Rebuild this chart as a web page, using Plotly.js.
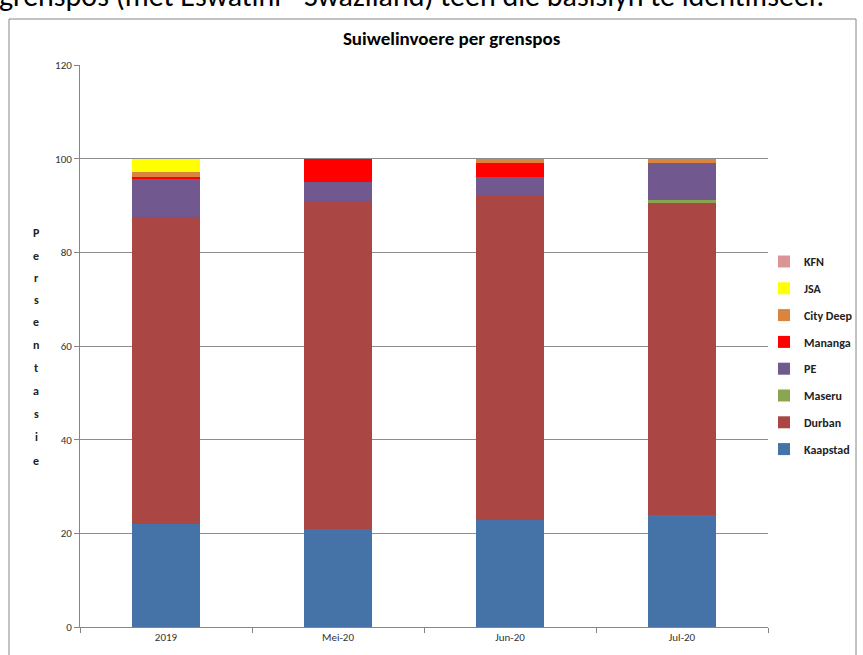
<!DOCTYPE html>
<html>
<head>
<meta charset="utf-8">
<script src="https://cdn.plot.ly/plotly-3.0.1.min.js"></script>
<style>html,body{margin:0;padding:0;background:#fff;}#chart{width:863px;height:655px;}</style>
</head>
<body>
<div id="chart"></div>
<script>
const categories = ["2019", "Mei-20", "Jun-20", "Jul-20"];
const seriesNames = ["Kaapstad", "Durban", "Maseru", "PE", "Mananga", "City Deep", "JSA", "KFN"];
const kaapstad = [22.0, 20.9, 22.9, 23.9];
const durban   = [65.5, 70.1, 69.2, 66.6];
const maseru   = [0.1, 0.0, 0.0, 0.6];
const pe       = [8.1, 4.0, 4.0, 8.0];
const mananga  = [0.4, 5.0, 3.0, 0.0];
const cityDeep = [1.1, 0.0, 0.9, 0.9];
const jsa      = [2.8, 0.0, 0.0, 0.0];
const kfn      = [0.0, 0.0, 0.0, 0.0];
const yTicks = [0, 20, 40, 60, 80, 100, 120];
const yTitle = "Persentasie";
const topText = "grenspos (met Eswatini - Swaziland) teen die basislyn te identifiseer.";

const seriesValues = [kaapstad, durban, maseru, pe, mananga, cityDeep, jsa, kfn];
const colors = ["#4572A7", "#AA4643", "#89A54E", "#71588F", "#FF0000", "#DB843D", "#FFFF00", "#D99694"];

const font = "Carlito, 'Open Sans', 'Liberation Sans', sans-serif";

const traces = seriesNames.map((name, i) => ({
  type: "bar",
  name: name,
  x: categories,
  y: seriesValues[i],
  legendgroup: name,
  legendrank: seriesNames.length - i,
  marker: {color: colors[i], line: {width: 0}},
  width: 0.4,
  hoverinfo: "x+y+name"
}));

// plot area pixel geometry
const L = 80, R = 768, T = 65, B = 627;
const H = B - T, W = R - L;
const py = p => (B - p) / H;
const px = p => (p - L) / W;

const annotations = [];
const letterYs = [233, 256, 278, 300, 322, 345, 368, 391, 414, 437, 461];
for (let i = 0; i < yTitle.length; i++) {
  annotations.push({
    text: yTitle[i], xref: "paper", yref: "paper",
    x: px(36), y: py(letterYs[i]), xanchor: "center", yanchor: "middle",
    showarrow: false, font: {family: font, size: 12, color: "#222", weight: "bold"}
  });
}
annotations.push({
  text: topText, xref: "paper", yref: "paper",
  x: px(-3), y: py(-4), xanchor: "left", yanchor: "middle",
  showarrow: false, font: {family: font, size: 30, color: "#000"}
});

const layout = {
  width: 863, height: 655,
  margin: {l: L, r: 863 - R, t: T, b: 655 - B, pad: 0, autoexpand: false},
  paper_bgcolor: "#fff", plot_bgcolor: "#fff",
  barmode: "stack",
  bargap: 0.6,
  title: {text: "<b>Suiwelinvoere per grenspos</b>", x: px(440), xanchor: "center", y: 1 - 38/655, yanchor: "middle",
          font: {family: font, size: 19, color: "#000"}},
  xaxis: {
    type: "category", showgrid: false, showline: true, linecolor: "#868686", linewidth: 1,
    ticks: "outside", tickson: "boundaries", ticklen: 5, tickcolor: "#868686",
    tickfont: {family: font, size: 11, color: "#333"}, zeroline: false
  },
  yaxis: {
    range: [0, 120], tickvals: yTicks, ticktext: yTicks.map(String),
    showgrid: true, gridcolor: "#8c8c8c", gridwidth: 1,
    showline: true, linecolor: "#868686", linewidth: 1,
    ticks: "outside", ticklen: 5, tickcolor: "#868686",
    tickfont: {family: font, size: 11, color: "#333"}, zeroline: false
  },
  legend: {
    x: px(764), y: py(247), xanchor: "left", yanchor: "top",
    traceorder: "grouped", tracegroupgap: 7.8,
    font: {family: font, size: 12, color: "#222", weight: "bold"},
    itemwidth: 30, bgcolor: "rgba(0,0,0,0)"
  },
  annotations: annotations,
  shapes: [{
    type: "rect", xref: "paper", yref: "paper",
    x0: px(9), x1: px(856), y0: py(700), y1: py(19),
    line: {color: "#868686", width: 1}, fillcolor: "rgba(0,0,0,0)", layer: "below"
  }]
};

Plotly.newPlot("chart", traces, layout, {displayModeBar: false, staticPlot: true});
</script>
</body>
</html>
